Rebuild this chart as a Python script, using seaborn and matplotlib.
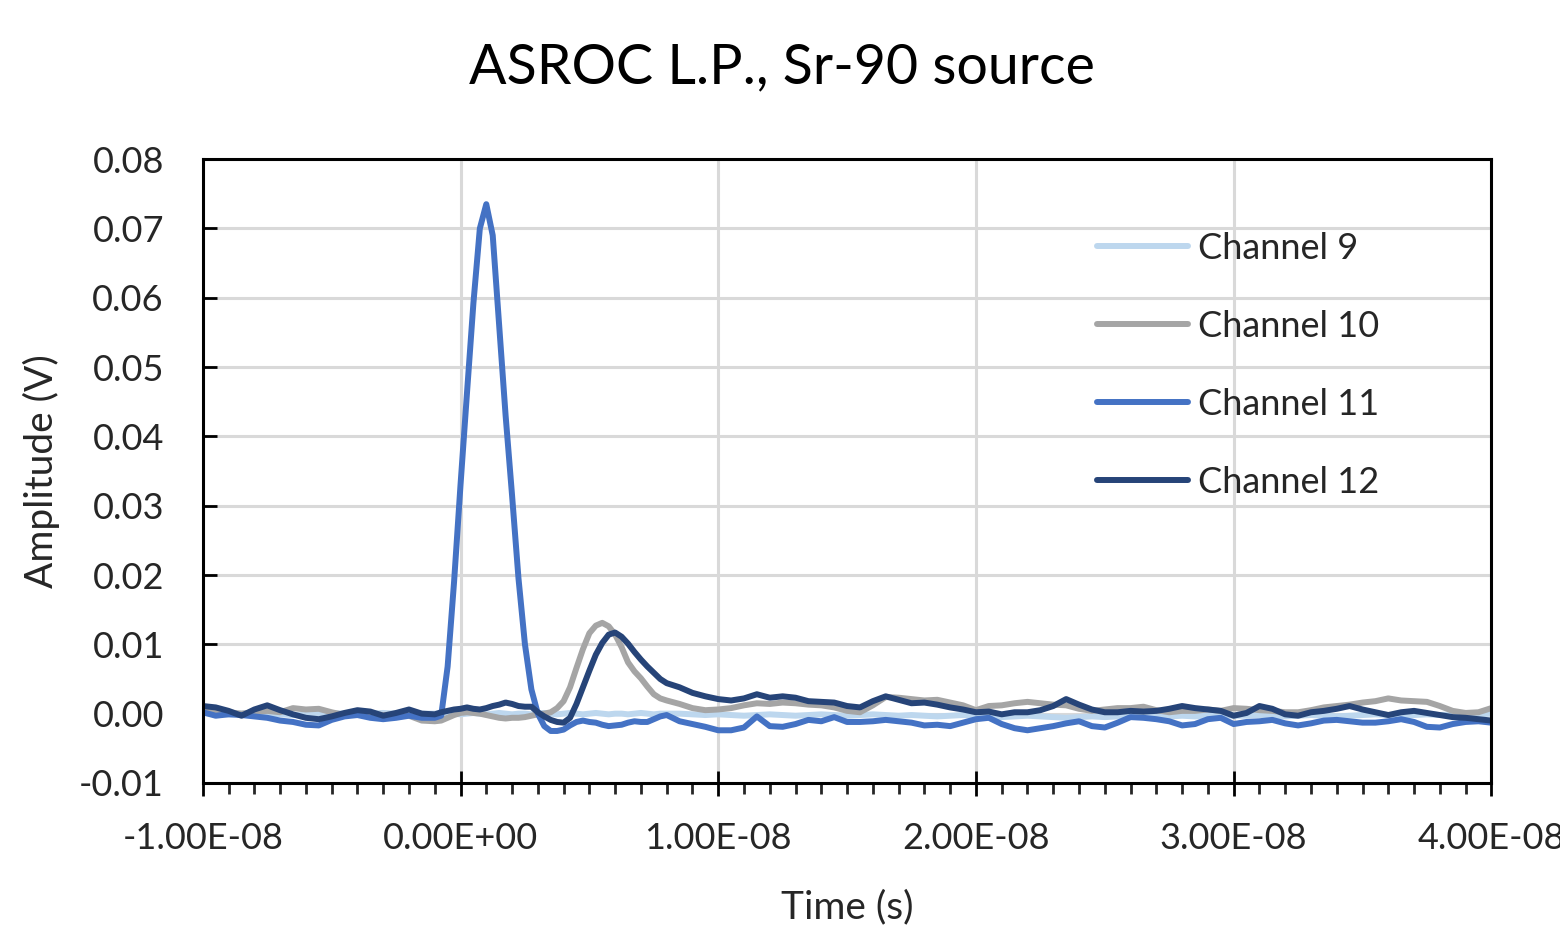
import matplotlib
matplotlib.use('Agg')
import matplotlib.pyplot as plt
from matplotlib.ticker import MultipleLocator, FuncFormatter
import seaborn as sns
import numpy as np
import pandas as pd

# time grid in ns: coarse baseline, finer around the pulses, coarse tail
time_ns = np.concatenate([
    np.arange(-10.0, -0.99, 0.5),
    np.arange(-0.75, 8.01, 0.25),
    np.arange(8.5, 40.01, 0.5),
])

ch9 = [
    0.0001, 0.0000, -0.0001, 0.0000, 0.0001, 0.0000, -0.0001, -0.0002, -0.0001, 0.0000,
    0.0001, 0.0000, -0.0001, 0.0000, 0.0001, 0.0000, -0.0001, 0.0000, 0.0000,
    0.0000, 0.0001, 0.0000, -0.0001, 0.0000, 0.0001, 0.0000, -0.0001, 0.0000, 0.0001,
    0.0000, -0.0001, 0.0000, 0.0000, -0.0001, 0.0000, 0.0001, 0.0000, -0.0001, 0.0000,
    0.0001, 0.0000, -0.0001, 0.0000, 0.0001, 0.0000, -0.0001, 0.0000, 0.0000, -0.0001,
    0.0000, 0.0001, 0.0000, -0.0001, 0.0000, 0.0000,
    0.0000, -0.0001, -0.0002, -0.0001, -0.0002, -0.0003, -0.0002, -0.0001, -0.0002, -0.0003,
    -0.0002, -0.0001, -0.0002, -0.0003, -0.0002, -0.0001, -0.0002, -0.0003, -0.0002, -0.0003,
    -0.0004, -0.0003, -0.0002, -0.0003,
    -0.0004, -0.0005, -0.0004, -0.0003, -0.0004, -0.0005, -0.0006, -0.0005, -0.0004, -0.0005,
    -0.0004, -0.0003, -0.0004, -0.0005, -0.0004, -0.0003, -0.0004, -0.0003, -0.0002, -0.0003,
    -0.0003, -0.0002, -0.0003, -0.0004, -0.0003, -0.0002, -0.0003, -0.0004, -0.0003, -0.0002,
    -0.0001, -0.0002, -0.0003, -0.0002, -0.0001, -0.0002, -0.0001, 0.0000, -0.0001, 0.0000,
]

ch10 = [
    0.0008, 0.0005, 0.0002, 0.0000, 0.0002, 0.0004, 0.0002, 0.0008, 0.0006, 0.0007,
    0.0002, -0.0002, 0.0001, 0.0000, -0.0002, -0.0001, -0.0003, -0.0010, -0.0011,
    -0.0010, -0.0006, -0.0002, 0.0001, 0.0002, 0.0001, 0.0000, -0.0002, -0.0004, -0.0006,
    -0.0007, -0.0006, -0.0006, -0.0005, -0.0003, -0.0001, 0.0000, 0.0002, 0.0008, 0.0018,
    0.0038, 0.0066, 0.0093, 0.0116, 0.0127, 0.0131, 0.0126, 0.0114, 0.0096, 0.0074,
    0.0061, 0.0051, 0.0039, 0.0028, 0.0022, 0.0019,
    0.0014, 0.0008, 0.0005, 0.0006, 0.0008, 0.0012, 0.0015, 0.0014, 0.0016, 0.0015,
    0.0013, 0.0012, 0.0009, 0.0004, 0.0002, 0.0012, 0.0024, 0.0023, 0.0021, 0.0019,
    0.0020, 0.0016, 0.0012, 0.0005,
    0.0011, 0.0012, 0.0015, 0.0017, 0.0015, 0.0013, 0.0012, 0.0007, 0.0004, 0.0006,
    0.0008, 0.0008, 0.0010, 0.0005, 0.0002, 0.0004, 0.0004, 0.0006, 0.0004, 0.0008,
    0.0007, 0.0005, 0.0004, 0.0002, 0.0002, 0.0005, 0.0009, 0.0011, 0.0013, 0.0016,
    0.0018, 0.0022, 0.0019, 0.0018, 0.0017, 0.0011, 0.0004, 0.0001, 0.0002, 0.0008,
]

ch11 = [
    0.0002, -0.0003, -0.0001, -0.0002, -0.0004, -0.0006, -0.0010, -0.0012, -0.0016, -0.0017,
    -0.0009, -0.0004, -0.0002, -0.0006, -0.0008, -0.0006, -0.0003, -0.0006, -0.0006,
    -0.0003, 0.0068, 0.0190, 0.0330, 0.0462, 0.0592, 0.0700, 0.0735, 0.0690, 0.0560,
    0.0430, 0.0315, 0.0195, 0.0100, 0.0035, 0.0000, -0.0018, -0.0025, -0.0025, -0.0023,
    -0.0017, -0.0012, -0.0010, -0.0012, -0.0013, -0.0016, -0.0018, -0.0017, -0.0016, -0.0013,
    -0.0011, -0.0012, -0.0012, -0.0008, -0.0004, -0.0002,
    -0.0011, -0.0015, -0.0019, -0.0024, -0.0024, -0.0020, -0.0004, -0.0018, -0.0019, -0.0015,
    -0.0009, -0.0011, -0.0005, -0.0012, -0.0012, -0.0011, -0.0009, -0.0011, -0.0013, -0.0017,
    -0.0016, -0.0018, -0.0013, -0.0008,
    -0.0006, -0.0015, -0.0021, -0.0024, -0.0021, -0.0018, -0.0014, -0.0011, -0.0018, -0.0020,
    -0.0013, -0.0005, -0.0006, -0.0008, -0.0011, -0.0017, -0.0015, -0.0008, -0.0006, -0.0015,
    -0.0012, -0.0011, -0.0009, -0.0014, -0.0017, -0.0014, -0.0010, -0.0009, -0.0011, -0.0013,
    -0.0013, -0.0011, -0.0008, -0.0012, -0.0019, -0.0020, -0.0015, -0.0012, -0.0011, -0.0013,
]

ch12 = [
    0.0011, 0.0009, 0.0004, -0.0003, 0.0006, 0.0012, 0.0005, -0.0001, -0.0006, -0.0008,
    -0.0004, 0.0001, 0.0005, 0.0003, -0.0003, 0.0001, 0.0006, 0.0000, -0.0001,
    0.0002, 0.0004, 0.0006, 0.0007, 0.0009, 0.0007, 0.0006, 0.0008, 0.0011, 0.0013,
    0.0016, 0.0014, 0.0011, 0.0010, 0.0010, 0.0002, -0.0004, -0.0009, -0.0012, -0.0013,
    -0.0006, 0.0014, 0.0038, 0.0062, 0.0085, 0.0102, 0.0114, 0.0117, 0.0111, 0.0101,
    0.0089, 0.0078, 0.0068, 0.0059, 0.0050, 0.0044,
    0.0038, 0.0030, 0.0025, 0.0021, 0.0019, 0.0022, 0.0028, 0.0023, 0.0025, 0.0023,
    0.0018, 0.0017, 0.0016, 0.0011, 0.0009, 0.0018, 0.0025, 0.0020, 0.0015, 0.0016,
    0.0013, 0.0009, 0.0006, 0.0002,
    0.0003, -0.0001, 0.0002, 0.0002, 0.0005, 0.0011, 0.0021, 0.0013, 0.0006, 0.0002,
    0.0002, 0.0004, 0.0003, 0.0004, 0.0007, 0.0011, 0.0008, 0.0006, 0.0004, -0.0003,
    0.0001, 0.0011, 0.0007, -0.0001, -0.0003, 0.0002, 0.0004, 0.0007, 0.0011, 0.0006,
    0.0002, -0.0002, 0.0002, 0.0004, 0.0001, -0.0002, -0.0005, -0.0006, -0.0008, -0.0010,
]

channels = ['Channel 9', 'Channel 10', 'Channel 11', 'Channel 12']
colors = {'Channel 9': '#BDD7EE', 'Channel 10': '#A5A5A5',
          'Channel 11': '#4472C4', 'Channel 12': '#264478'}

frames = []
for name, vals in zip(channels, [ch9, ch10, ch11, ch12]):
    frames.append(pd.DataFrame({'time': time_ns * 1e-9, 'amp': vals, 'Channel': name}))
df = pd.concat(frames, ignore_index=True)

sns.set_theme(style='white')
plt.rcParams['font.family'] = ['Lato', 'DejaVu Sans']

fig = plt.figure(figsize=(15.6, 9.36), dpi=100)
ax = fig.add_axes([0.130, 0.1635, 0.826, 0.6665])

sns.lineplot(data=df, x='time', y='amp', hue='Channel', hue_order=channels,
             palette=colors, linewidth=4.3, estimator=None, sort=False, ax=ax)

ax.set_xlim(-1e-8, 4e-8)
ax.set_ylim(-0.01, 0.08)
ax.xaxis.set_major_locator(MultipleLocator(1e-8))
ax.xaxis.set_minor_locator(MultipleLocator(1e-9))
ax.yaxis.set_major_locator(MultipleLocator(0.01))
ax.xaxis.set_major_formatter(FuncFormatter(lambda v, p: '{:.2E}'.format(0.0 if abs(v) < 1e-15 else v)))
ax.yaxis.set_major_formatter(FuncFormatter(lambda v, p: '{:.2f}'.format(v)))

ax.grid(True, which='major', color='#D9D9D9', linewidth=2.2)
ax.set_axisbelow(True)
for s in ax.spines.values():
    s.set_color('black')
    s.set_linewidth(2.2)

ax.tick_params(axis='y', direction='in', length=10, width=2, pad=28,
               labelsize=26, colors='black', left=True)
ax.tick_params(axis='x', which='major', direction='inout', length=18, width=2,
               pad=19, labelsize=26, colors='black', bottom=True)
ax.tick_params(axis='x', which='minor', direction='out', length=8, width=2, bottom=True)
for lbl in ax.get_yticklabels() + ax.get_xticklabels():
    lbl.set_color('#262626')

ax.set_xlabel('Time (s)', fontsize=28, color='#262626', labelpad=25)
ax.set_ylabel('Amplitude (V)', fontsize=28, color='#262626', labelpad=14)

handles, labels = ax.get_legend_handles_labels()
ax.legend(handles, labels, loc='upper left', bbox_to_anchor=(0.669, 0.936),
          frameon=False, fontsize=26, handlelength=2.5, handletextpad=0.3,
          labelspacing=1.25, labelcolor='#262626')

fig.text(0.501, 0.927, 'ASROC L.P., Sr-90 source', ha='center', va='center',
         fontsize=40, color='black')

fig.savefig('out.png', dpi=100)
plt.close(fig)
